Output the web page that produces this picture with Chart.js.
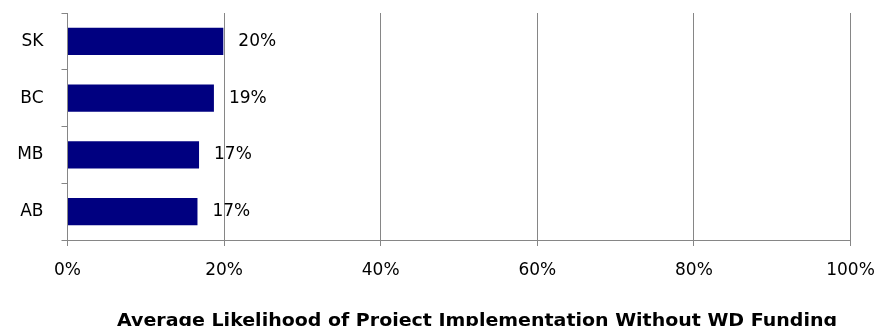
<!DOCTYPE html>
<html>
<head>
<meta charset="utf-8">
<script src="https://cdn.jsdelivr.net/npm/chart.js@4/dist/chart.umd.min.js"></script>
<style>
  html, body { margin: 0; padding: 0; background: #fff; }
  #wrap { width: 878px; height: 326px; position: relative; }
</style>
</head>
<body>
<div id="wrap"><canvas id="c" width="878" height="326"></canvas></div>
<script>
const categories = ['SK', 'BC', 'MB', 'AB'];
const values = [19.9, 18.7, 16.8, 16.6];
const xTicks = [0, 20, 40, 60, 80, 100];
const titleText = 'Average Likelihood of Project Implementation Without WD Funding';

const FONT = 'DejaVu Sans';
const GRID = '#868686';

function zeroPad(s) {
  s.paddingLeft = 0; s.paddingRight = 0; s.paddingTop = 0; s.paddingBottom = 0;
}

const valueLabels = {
  id: 'valueLabels',
  afterDatasetsDraw(chart) {
    const ctx = chart.ctx;
    const meta = chart.getDatasetMeta(0);
    ctx.save();
    ctx.font = '17px "' + FONT + '"';
    ctx.fillStyle = '#000';
    ctx.textAlign = 'left';
    ctx.textBaseline = 'middle';
    meta.data.forEach((bar, i) => {
      ctx.fillText(Math.round(values[i]) + '%', bar.x + 15, bar.y);
    });
    ctx.restore();
  }
};

const bottomTitle = {
  id: 'bottomTitle',
  afterDraw(chart) {
    const ctx = chart.ctx;
    ctx.save();
    ctx.font = 'bold 17px "' + FONT + '"';
    ctx.fillStyle = '#000';
    ctx.textAlign = 'left';
    ctx.textBaseline = 'alphabetic';
    const w = ctx.measureText(titleText).width;
    const target = 720;
    const sx = target / w;
    ctx.translate(117, 326);
    ctx.scale(sx, 1);
    ctx.fillText(titleText, 0, 0);
    ctx.restore();
  }
};

new Chart(document.getElementById('c'), {
  type: 'bar',
  data: {
    labels: categories,
    datasets: [{
      data: values,
      backgroundColor: '#000080',
      borderWidth: 0,
      categoryPercentage: 1,
      barPercentage: 0.48
    }]
  },
  options: {
    indexAxis: 'y',
    responsive: false,
    animation: false,
    layout: { padding: { top: 13, right: 27.5, bottom: 0, left: 0 } },
    plugins: {
      legend: { display: false },
      tooltip: { enabled: false },
      title: { display: false }
    },
    scales: {
      x: {
        min: 0,
        max: 100,
        afterFit: (s) => { s.height = 86; zeroPad(s); },
        afterBuildTicks: (s) => { s.ticks = xTicks.map(v => ({ value: v })); },
        ticks: {
          callback: (v) => v + '%',
          font: { family: FONT, size: 17 },
          color: '#000',
          padding: 14
        },
        grid: {
          color: GRID,
          lineWidth: 1,
          drawTicks: true,
          tickLength: 6
        },
        border: { color: GRID, width: 1 }
      },
      y: {
        afterFit: (s) => { s.width = 67.5; zeroPad(s); },
        ticks: {
          font: { family: FONT, size: 17 },
          color: '#000',
          padding: 18
        },
        grid: {
          color: GRID,
          lineWidth: 1,
          drawOnChartArea: false,
          drawTicks: true,
          tickLength: 6,
          offset: true
        },
        border: { color: GRID, width: 1 }
      }
    }
  },
  plugins: [valueLabels, bottomTitle]
});
</script>
</body>
</html>
